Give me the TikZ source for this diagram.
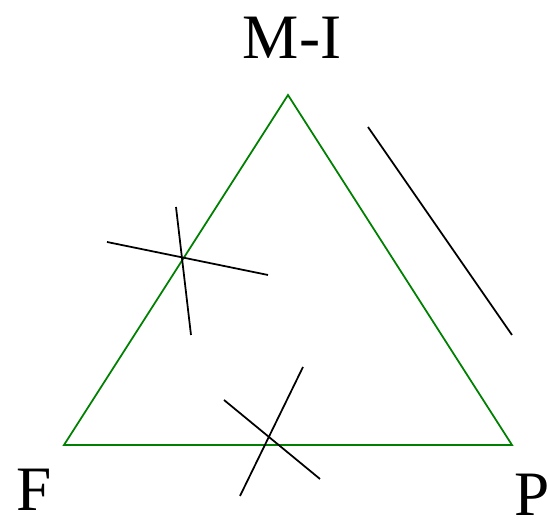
\documentclass[tikz,border=0pt]{standalone}
\usepackage{fontspec}
\setmainfont{Liberation Serif}
\usetikzlibrary{positioning}
\definecolor{edgegreen}{RGB}{0,128,0}

\begin{document}
\begin{tikzpicture}[x=1cm, y=1cm,
    vlabel/.style={inner sep=0pt, font=\fontsize{18}{18}\selectfont},
    side/.style={edgegreen, line width=0.5pt},
    tick/.style={black, line width=0.5pt}
]
\useasboundingbox (0,0) rectangle (5.5,5.2);

% vertices
\coordinate (MI) at (2.88,4.25);
\coordinate (F)  at (0.64,0.75);
\coordinate (P)  at (5.12,0.75);

\node (MIlab) [vlabel] at (2.92,4.82) {M-I};
\node (Flab)  [vlabel] at (0.34,0.30) {F};
\node (Plab)  [vlabel] at (5.32,0.25) {P};

\draw [side] (MI) -- (F) -- (P) -- cycle;

% parallel bar on the M-I -- P side
\coordinate (par1) at (3.68,3.93);
\coordinate (par2) at (5.12,1.85);
\draw [tick] (par1) -- (par2);

% cross on the M-I -- F side
\coordinate (lxa) at (1.07,2.78);
\coordinate (lxb) at (2.68,2.45);
\coordinate (lxc) at (1.76,3.13);
\coordinate (lxd) at (1.91,1.85);
\draw [tick] (lxa) -- (lxb);
\draw [tick] (lxc) -- (lxd);

% cross on the F -- P side
\coordinate (bxa) at (2.24,1.20);
\coordinate (bxb) at (3.20,0.41);
\coordinate (bxc) at (3.03,1.53);
\coordinate (bxd) at (2.40,0.24);
\draw [tick] (bxa) -- (bxb);
\draw [tick] (bxc) -- (bxd);

\end{tikzpicture}
\end{document}
